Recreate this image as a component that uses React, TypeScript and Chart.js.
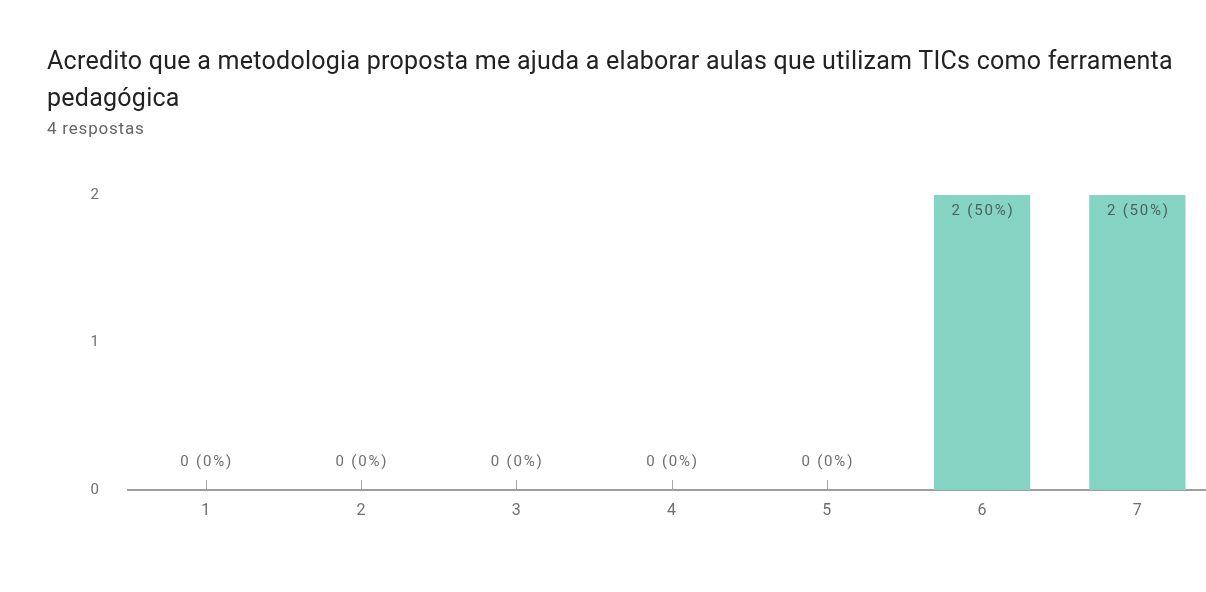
import React, { useEffect, useRef } from "react";
import { Chart, registerables } from "chart.js";

Chart.register(...registerables);

const titleText =
  "Acredito que a metodologia proposta me ajuda a elaborar aulas que utilizam TICs como ferramenta pedagógica";
const subtitleText = "4 respostas";
const categories = ["1", "2", "3", "4", "5", "6", "7"];
const counts = [0, 0, 0, 0, 0, 2, 2];
const labels = ["0 (0%)", "0 (0%)", "0 (0%)", "0 (0%)", "0 (0%)", "2 (50%)", "2 (50%)"];
const yTicks = [0, 1, 2];

const labelPlugin = {
  id: "barLabels",
  afterDatasetsDraw(chart: any) {
    const ctx = chart.ctx;
    const meta = chart.getDatasetMeta(0);
    const yScale = chart.scales.y;
    ctx.save();
    ctx.font = "15px Roboto";
    (ctx as any).letterSpacing = "1.8px";
    ctx.textAlign = "center";
    meta.data.forEach((bar: any, i: number) => {
      const v = counts[i];
      if (v === 0) {
        const base = yScale.getPixelForValue(0);
        ctx.strokeStyle = "#a8a8a8";
        ctx.lineWidth = 1;
        ctx.beginPath();
        ctx.moveTo(Math.round(bar.x) + 0.5, base);
        ctx.lineTo(Math.round(bar.x) + 0.5, base - 10);
        ctx.stroke();
        ctx.fillStyle = "#6f6f6f";
        ctx.textBaseline = "bottom";
        ctx.fillText(labels[i], bar.x + 1, base - 20);
      } else {
        ctx.fillStyle = "#4f5f5b";
        ctx.textBaseline = "top";
        ctx.fillText(labels[i], bar.x + 1, bar.y + 9);
      }
    });
    ctx.restore();
  },
};

export default function App() {
  const canvasRef = useRef<HTMLCanvasElement | null>(null);

  useEffect(() => {
    document.body.style.margin = "0";
    document.body.style.overflow = "hidden";
    const chart = new Chart(canvasRef.current as HTMLCanvasElement, {
      type: "bar",
      data: {
        labels: categories,
        datasets: [
          {
            data: counts,
            backgroundColor: "#85d3c3",
            borderWidth: 0,
            barPercentage: 0.62,
            categoryPercentage: 1,
          },
        ],
      },
      options: {
        animation: false,
        responsive: false,
        maintainAspectRatio: false,
        layout: { padding: { top: 195, right: 15, left: 0, bottom: 0 } },
        plugins: {
          legend: { display: false },
          tooltip: { enabled: false },
        },
        scales: {
          x: {
            grid: { display: false },
            border: { display: true, color: "#9e9e9e", width: 2 },
            ticks: {
              color: "#6f6f6f",
              font: { family: "Roboto", size: 16 },
              padding: 3,
            },
            afterFit(scale: any) {
              scale.height = 102;
            },
          },
          y: {
            min: 0,
            max: 2,
            grid: { display: false },
            border: { display: false },
            afterBuildTicks(scale: any) {
              scale.ticks = yTicks.map((v) => ({ value: v }));
            },
            ticks: {
              color: "#6f6f6f",
              font: { family: "Roboto", size: 15 },
              padding: 21,
            },
            afterFit(scale: any) {
              scale.width = 128;
            },
          },
        },
      },
      plugins: [labelPlugin],
    });
    return () => chart.destroy();
  }, []);

  return (
    <div
      style={{
        position: "fixed",
        left: 0,
        top: 0,
        width: 1206,
        height: 592,
        overflow: "hidden",
        background: "#fff",
      }}
    >
      <canvas
        ref={canvasRef}
        width={1230}
        height={592}
        style={{ position: "absolute", left: 0, top: 0, width: 1230, height: 592 }}
      />
      <div
        style={{
          position: "absolute",
          left: 47,
          top: 42,
          width: 1140,
          fontFamily: "Roboto",
          fontSize: 25,
          letterSpacing: "0.26px",
          lineHeight: "37px",
          color: "#222222",
        }}
      >
        {titleText}
      </div>
      <div
        style={{
          position: "absolute",
          left: 47,
          top: 118,
          fontFamily: "Roboto",
          fontSize: 17,
          letterSpacing: "0.8px",
          color: "#666666",
        }}
      >
        {subtitleText}
      </div>
    </div>
  );
}
